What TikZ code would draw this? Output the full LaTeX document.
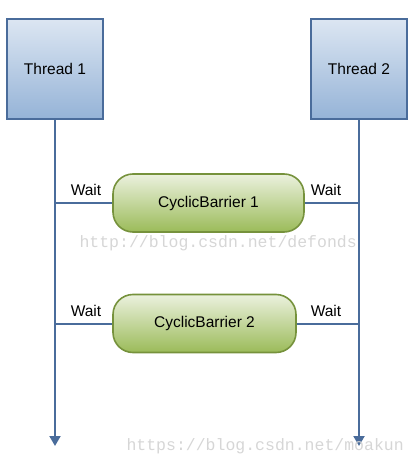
\documentclass[tikz,border=0pt]{standalone}
\usepackage{fontspec}
\setmainfont{Liberation Sans}
\setmonofont{Liberation Mono}
\usetikzlibrary{arrows.meta}
\definecolor{threadtop}{HTML}{DCE6F2}
\definecolor{threadbot}{HTML}{95B3D7}
\definecolor{threadedge}{HTML}{4A6C9B}
\definecolor{barriertop}{HTML}{EBF1DE}
\definecolor{barrierbot}{HTML}{9BBB59}
\definecolor{barrieredge}{HTML}{76923C}
\definecolor{wmark}{HTML}{D6D6D6}

\begin{document}
\begin{tikzpicture}[x=1pt,y=-1pt]
\tikzstyle{every node}+=[font=\fontsize{15.5}{18}\selectfont]
\tikzstyle{thread}=[draw=threadedge, line width=1.6pt, top color=threadtop, bottom color=threadbot, minimum width=96pt, minimum height=100pt, inner sep=0pt]
\tikzstyle{barrier}=[draw=barrieredge, line width=1.6pt, top color=barriertop, bottom color=barrierbot, rounded corners=20pt, minimum height=58pt, inner sep=0pt]
\tikzstyle{flow}=[draw=threadedge, line width=2pt]
\tikzstyle{watermark}=[text=wmark, font=\ttfamily\fontsize{16.5}{18}\selectfont]
\useasboundingbox (0,0) rectangle (415,465);
% threads
\node [thread] (t1) at (55,69) {Thread 1};
\node [thread] (t2) at (359,69) {Thread 2};
\coordinate (e1) at (55,446);
\coordinate (e2) at (359,446);
% barriers
\node [barrier, minimum width=191pt] (b1) at (208.5,203) {CyclicBarrier 1};
\node [barrier, minimum width=183pt] (b2) at (204.5,323.5) {CyclicBarrier 2};
\draw [flow, -{Triangle[width=11pt,length=10pt]}] (t1) -- (e1);
\draw [flow, -{Triangle[width=11pt,length=10pt]}] (t2) -- (e2);
\draw [flow] (b1.west) -- (b1.west -| t1);
\draw [flow] (b1.east) -- (b1.east -| t2);
\draw [flow] (b2.west) -- (b2.west -| t1);
\draw [flow] (b2.east) -- (b2.east -| t2);
% labels
\node (w1) at (86,190) {Wait};
\node (w2) at (326,190) {Wait};
\node (w3) at (86,311) {Wait};
\node (w4) at (326,311) {Wait};
% watermarks
\node [watermark, anchor=west] (m1) at (76,243) {http://blog.csdn.net/defonds};
\node [watermark, anchor=west] (m2) at (123,446) {https://blog.csdn.net/moakun};
\end{tikzpicture}
\end{document}
